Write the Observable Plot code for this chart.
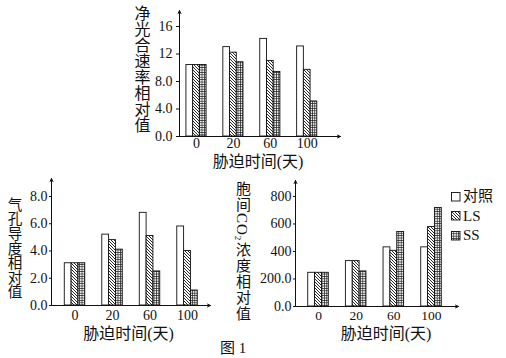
<!DOCTYPE html>
<html>
<head>
<meta charset="utf-8">
<script src="https://cdn.jsdelivr.net/npm/d3@7"></script>
<script src="https://cdn.jsdelivr.net/npm/@observablehq/plot@0.6"></script>
<style>
  html, body { margin: 0; padding: 0; background: white; }
  #page { position: relative; width: 506px; height: 358px; overflow: hidden; background: white;
          font-family: "Liberation Serif", "Noto Sans CJK SC", serif; color: #111; }
  #page svg.plotlayer { position: absolute; left: 0; top: 0; }
  .vtitle { position: absolute; writing-mode: vertical-rl; text-orientation: mixed; line-height: 1;
            white-space: nowrap; color: #111; }
  .vtitle sub { font-size: 0.6em; }
  #legend { position: absolute; left: 451px; top: 187px; font-size: 15px; line-height: 19.5px; }
  #legend div { display: flex; align-items: center; height: 19.5px; }
  #legend svg { margin-right: 2px; }
  #fig { position: absolute; left: 220px; top: 336px; font-size: 15px; }
</style>
</head>
<body>
<div id="page">
  <svg style="position:absolute;width:0;height:0" aria-hidden="true">
    <defs>
      <pattern id="hatchLS" patternUnits="userSpaceOnUse" width="3" height="3">
        <rect width="3" height="3" fill="white"/>
        <path d="M-1,-1L4,4M-1,2L1,4M2,-1L4,1" stroke="#111" stroke-width="0.9"/>
      </pattern>
      <pattern id="gridSS" patternUnits="userSpaceOnUse" width="2.4" height="2.4">
        <rect width="2.4" height="2.4" fill="#f4f4f4"/>
        <path d="M0,0.3H2.4M0.3,0V2.4" stroke="#222" stroke-width="0.8"/>
      </pattern>
    </defs>
  </svg>
</div>
<script>
// ---------- data ----------
const days = ["0", "20", "60", "100"];
const seriesNames = ["对照", "LS", "SS"];
const seriesFills = ["white", "url(#hatchLS)", "url(#gridSS)"];

// 净光合速率相对值
const photoCtrl = [10.4, 13.0, 14.2, 13.1];
const photoLS   = [10.4, 12.2, 11.0, 9.7];
const photoSS   = [10.4, 10.8, 9.4, 5.1];
const photoTicks = [0, 4, 8, 12, 16];
const photoTickLabels = ["0.0", "4.0", "8.0", "12", "16"];

// 气孔导度相对值
const stomaCtrl = [3.1, 5.2, 6.8, 5.8];
const stomaLS   = [3.1, 4.8, 5.1, 4.0];
const stomaSS   = [3.1, 4.1, 2.5, 1.1];
const stomaTicks = [0, 2, 4, 6, 8];
const stomaTickLabels = ["0.0", "2.0", "4.0", "6.0", "8.0"];

// 胞间CO2浓度相对值
const co2Ctrl = [245, 330, 430, 430];
const co2LS   = [245, 330, 405, 578];
const co2SS   = [245, 255, 542, 716];
const co2Ticks = [0, 200, 400, 600, 800];
const co2TickLabels = ["0.0", "200.0", "400", "600", "800"];

const xTitle = "胁迫时间(天)";
const figLabel = "图 1";

// ---------- helpers ----------
const W = 506, H = 358;
const barW = 0.182;

function table(ctrl, ls, ss) {
  const out = [];
  [ctrl, ls, ss].forEach((vals, k) => vals.forEach((v, i) => out.push({g: i + 1, k, v})));
  return out;
}

function makeChart(o) {
  const rows = table(...o.values);
  const xd = o.xDomain, yd = o.yDomain;
  const marks = [];
  for (let k = 0; k < 3; k++) {
    marks.push(Plot.rect(rows.filter(d => d.k === k), {
      x1: d => d.g + (k - 1.5) * barW,
      x2: d => d.g + (k - 0.5) * barW,
      y1: () => 0,
      y2: "v",
      fill: seriesFills[k],
      stroke: "#111",
      strokeWidth: 0.9
    }));
  }
  marks.push(Plot.arrow([0], {x1: () => xd[0], x2: () => xd[0], y1: () => 0, y2: () => yd[1],
    stroke: "#111", strokeWidth: 1, headLength: 5, headAngle: 50}));
  marks.push(Plot.arrow([0], {x1: () => xd[0], x2: () => xd[1], y1: () => 0, y2: () => 0,
    stroke: "#111", strokeWidth: 1, headLength: 5, headAngle: 50}));
  marks.push(Plot.axisY({ticks: o.yTicks, tickFormat: (d) => o.yTickLabels[o.yTicks.indexOf(d)],
    tickSize: o.tickSize, tickPadding: o.tickPadding, label: null, fontSize: 14}));
  marks.push(Plot.axisX({ticks: [1, 2, 3, 4], tickFormat: d => days[d - 1],
    tickSize: 0, tickPadding: o.xPad, label: null, fontSize: o.xFont || 14}));
  marks.push(Plot.text([xTitle], {frameAnchor: "bottom", lineAnchor: "middle", dx: o.titleDx, dy: o.titleDy,
    fontSize: 16, text: d => d}));
  const svg = Plot.plot({
    width: W, height: H,
    marginLeft: o.m[0], marginRight: o.m[1], marginTop: o.m[2], marginBottom: o.m[3],
    x: {type: "linear", domain: xd, axis: null},
    y: {type: "linear", domain: yd, axis: null},
    style: {background: "transparent", fontFamily: "'Liberation Serif', 'Noto Sans CJK SC', serif",
            fontSize: "14px", color: "#111", overflow: "visible", maxWidth: "none"},
    marks
  });
  svg.classList.add("plotlayer");
  return svg;
}

const page = document.getElementById("page");

page.appendChild(makeChart({
  values: [photoCtrl, photoLS, photoSS],
  xDomain: [0.539, 4.902], yDomain: [0, 18.33],
  m: [179, 166, 10, 222],
  yTicks: photoTicks, yTickLabels: photoTickLabels,
  tickSize: 3, tickPadding: 4, xPad: 2, titleDx: -2, titleDy: 25
}));

page.appendChild(makeChart({
  values: [stomaCtrl, stomaLS, stomaSS],
  xDomain: [0.373, 4.613], yDomain: [0, 9.32],
  m: [51, 296, 178, 53],
  yTicks: stomaTicks, yTickLabels: stomaTickLabels,
  tickSize: 2, tickPadding: 2, xPad: 5, titleDx: -2.5, titleDy: 28
}));

page.appendChild(makeChart({
  values: [co2Ctrl, co2LS, co2SS],
  xDomain: [0.389, 4.717], yDomain: [0, 916],
  m: [295, 48, 180, 52],
  yTicks: co2Ticks, yTickLabels: co2TickLabels,
  tickSize: 2, tickPadding: 2, xPad: 3.5, xFont: 13.5, titleDx: 9, titleDy: 27.5
}));

// vertical y titles
function vtitle(html, left, top, size, spacing) {
  const d = document.createElement("div");
  d.className = "vtitle";
  d.innerHTML = html;
  d.style.left = left + "px";
  d.style.top = top + "px";
  d.style.fontSize = size + "px";
  d.style.letterSpacing = spacing + "px";
  page.appendChild(d);
}
vtitle("净光合速率相对值", 132.5, 5, 16, 0);
vtitle("气孔导度相对值", 6, 197, 14.6, 0);
vtitle("胞间CO<sub>2</sub>浓度相对值", 233, 181, 15, 1);

// legend
const legend = document.createElement("div");
legend.id = "legend";
seriesNames.forEach((name, k) => {
  const row = document.createElement("div");
  row.innerHTML = `<svg width="10" height="10"><rect x="0.5" y="0.5" width="8.5" height="8.5" fill="${seriesFills[k]}" stroke="#111" stroke-width="0.9"/></svg><span>${name}</span>`;
  legend.appendChild(row);
});
page.appendChild(legend);

const fig = document.createElement("div");
fig.id = "fig";
fig.textContent = figLabel;
page.appendChild(fig);
</script>
</body>
</html>
